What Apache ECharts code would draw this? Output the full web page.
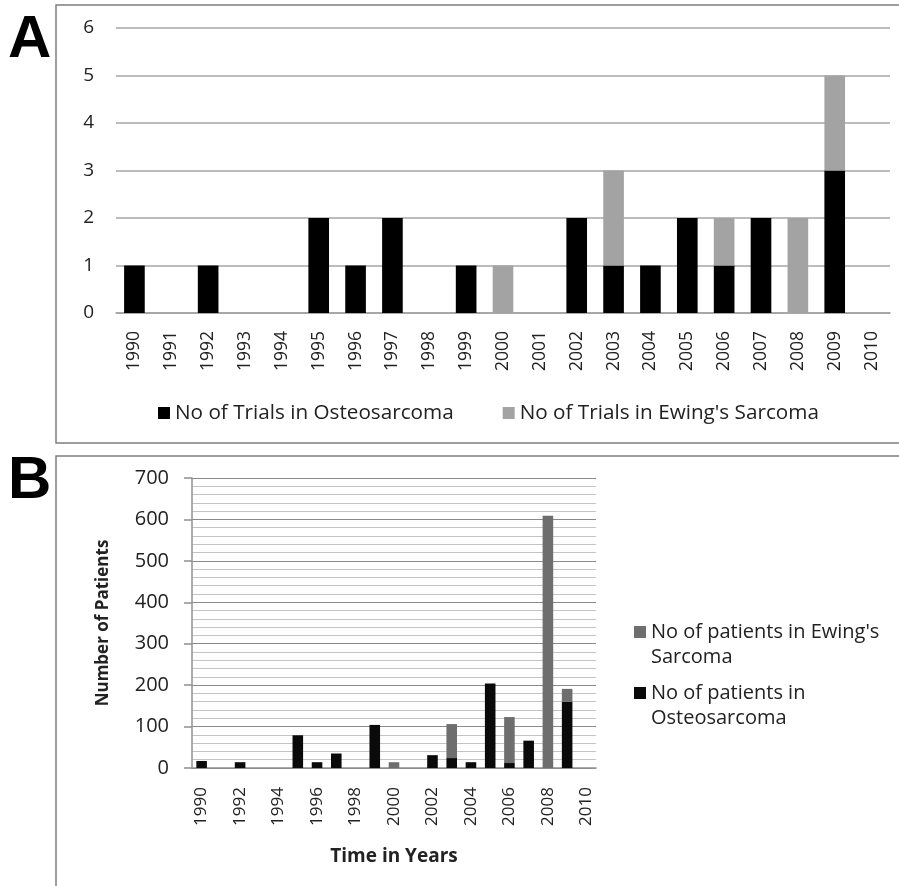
<!DOCTYPE html>
<html><head><meta charset="utf-8">
<script src="https://cdn.jsdelivr.net/npm/echarts@6/dist/echarts.min.js"></script>
<style>html,body{margin:0;padding:0;background:#fff}#c{width:899px;height:886px}</style>
</head><body><div id="c"></div>
<script>
const years = ['1990','1991','1992','1993','1994','1995','1996','1997','1998','1999','2000','2001','2002','2003','2004','2005','2006','2007','2008','2009','2010'];
const trialsOsteo = [1,0,1,0,0,2,1,2,0,1,0,0,2,1,1,2,1,2,0,3,0];
const trialsEwing = [0,0,0,0,0,0,0,0,0,0,1,0,0,2,0,0,1,0,2,2,0];
const patientsOsteo = [17,0,14,0,0,79,14,35,0,104,0,0,31,24,14,204,12,66,0,160,0];
const patientsEwing = [0,0,0,0,0,0,0,0,0,0,14,0,0,82,0,0,111,0,609,31,0];
const namesA = ['No of Trials in Osteosarcoma', "No of Trials in Ewing's Sarcoma"];
const namesB = ['No of patients in Osteosarcoma', "No of patients in Ewing's Sarcoma"];
const legendLabelsB = {"No of patients in Osteosarcoma": 'No of patients in\nOsteosarcoma', "No of patients in Ewing's Sarcoma": "No of patients in Ewing's\nSarcoma"};

const FF = '"Open Sans", "Noto Sans", sans-serif';
const TXT = '#222';
const chart = echarts.init(document.getElementById('c'));
const legendB = (name, top) => ({
  data: [name], left: 634, top: top, orient: 'vertical', padding: 0,
  itemWidth: 12, itemHeight: 12, icon: 'rect', selectedMode: false,
  formatter: n => ' \n' + legendLabelsB[n],
  textStyle: {fontFamily: FF, fontSize: 20, lineHeight: 25, color: TXT}
});
chart.setOption({
  animation: false,
  textStyle: {fontFamily: FF},
  grid: [
    {left: 116, right: 9, top: 28, bottom: 573},
    {left: 192, right: 303, top: 478, bottom: 118}
  ],
  xAxis: [
    {gridIndex: 0, type: 'category', data: years,
     axisLine: {lineStyle: {color: '#a0a0a0', width: 1.5}}, axisTick: {show: false},
     axisLabel: {rotate: 90, interval: 0, margin: 18, fontSize: 17.5, color: TXT, fontFamily: FF}},
    {gridIndex: 1, type: 'category', data: years,
     axisLine: {lineStyle: {color: '#909090', width: 1.5}}, axisTick: {show: false},
     axisLabel: {rotate: 90, interval: 1, margin: 19, fontSize: 17, color: TXT, fontFamily: FF},
     name: 'Time in Years', nameLocation: 'middle', nameGap: 79,
     nameTextStyle: {fontWeight: 'bold', fontSize: 19, color: TXT, fontFamily: FF}}
  ],
  yAxis: [
    {gridIndex: 0, type: 'value', min: 0, max: 6, interval: 1,
     axisLine: {show: false}, axisTick: {show: false},
     axisLabel: {margin: 22, fontSize: 19, color: TXT, fontFamily: FF},
     splitLine: {lineStyle: {color: '#a6a6a6', width: 1.5}}},
    {gridIndex: 1, type: 'value', min: 0, max: 700, interval: 100,
     axisLine: {show: true, lineStyle: {color: '#909090', width: 1.5}},
     axisTick: {show: true, inside: false, length: 8, lineStyle: {color: '#909090', width: 1.5}},
     minorTick: {show: false, splitNumber: 5},
     minorSplitLine: {show: true, lineStyle: {color: '#c4c4c4', width: 1.2}},
     axisLabel: {margin: 23, fontSize: 20, color: TXT, fontFamily: FF},
     splitLine: {lineStyle: {color: '#8a8a8a', width: 1.2}},
     name: 'Number of Patients', nameLocation: 'middle', nameGap: 80, nameRotate: 90,
     nameTextStyle: {fontWeight: 'bold', fontSize: 17, color: TXT, fontFamily: FF}}
  ],
  legend: [
    {data: namesA, left: 158, top: 402, orient: 'horizontal', padding: 0,
     itemWidth: 12, itemHeight: 12, itemGap: 49, icon: 'rect', selectedMode: false,
     textStyle: {fontFamily: FF, fontSize: 20.7, lineHeight: 22, color: TXT}},
    legendB(namesB[1], 594.5),
    legendB(namesB[0], 655.5)
  ],
  series: [
    {name: namesA[0], type: 'bar', stack: 'a', xAxisIndex: 0, yAxisIndex: 0, barWidth: '56%',
     itemStyle: {color: '#000000'}, data: trialsOsteo},
    {name: namesA[1], type: 'bar', stack: 'a', xAxisIndex: 0, yAxisIndex: 0, barWidth: '56%',
     itemStyle: {color: '#a3a3a3'}, data: trialsEwing},
    {name: namesB[0], type: 'bar', stack: 'b', xAxisIndex: 1, yAxisIndex: 1, barWidth: '55%',
     itemStyle: {color: '#0a0a0a'}, data: patientsOsteo},
    {name: namesB[1], type: 'bar', stack: 'b', xAxisIndex: 1, yAxisIndex: 1, barWidth: '55%',
     itemStyle: {color: '#6e6e6e'}, data: patientsEwing}
  ],
  graphic: [
    {type: 'rect', shape: {x: 56, y: 5, width: 900, height: 438}, style: {fill: 'none', stroke: '#7f7f7f', lineWidth: 1.5}, silent: true},
    {type: 'rect', shape: {x: 56, y: 456, width: 900, height: 500}, style: {fill: 'none', stroke: '#7f7f7f', lineWidth: 1.5}, silent: true},
    {type: 'text', x: 8, y: 40, style: {text: 'A', font: 'bold 60px "Liberation Sans", Arial, sans-serif', fill: '#000', verticalAlign: 'middle'}},
    {type: 'text', x: 8, y: 481, style: {text: 'B', font: 'bold 60px "Liberation Sans", Arial, sans-serif', fill: '#000', verticalAlign: 'middle'}}
  ]
});
</script></body></html>
